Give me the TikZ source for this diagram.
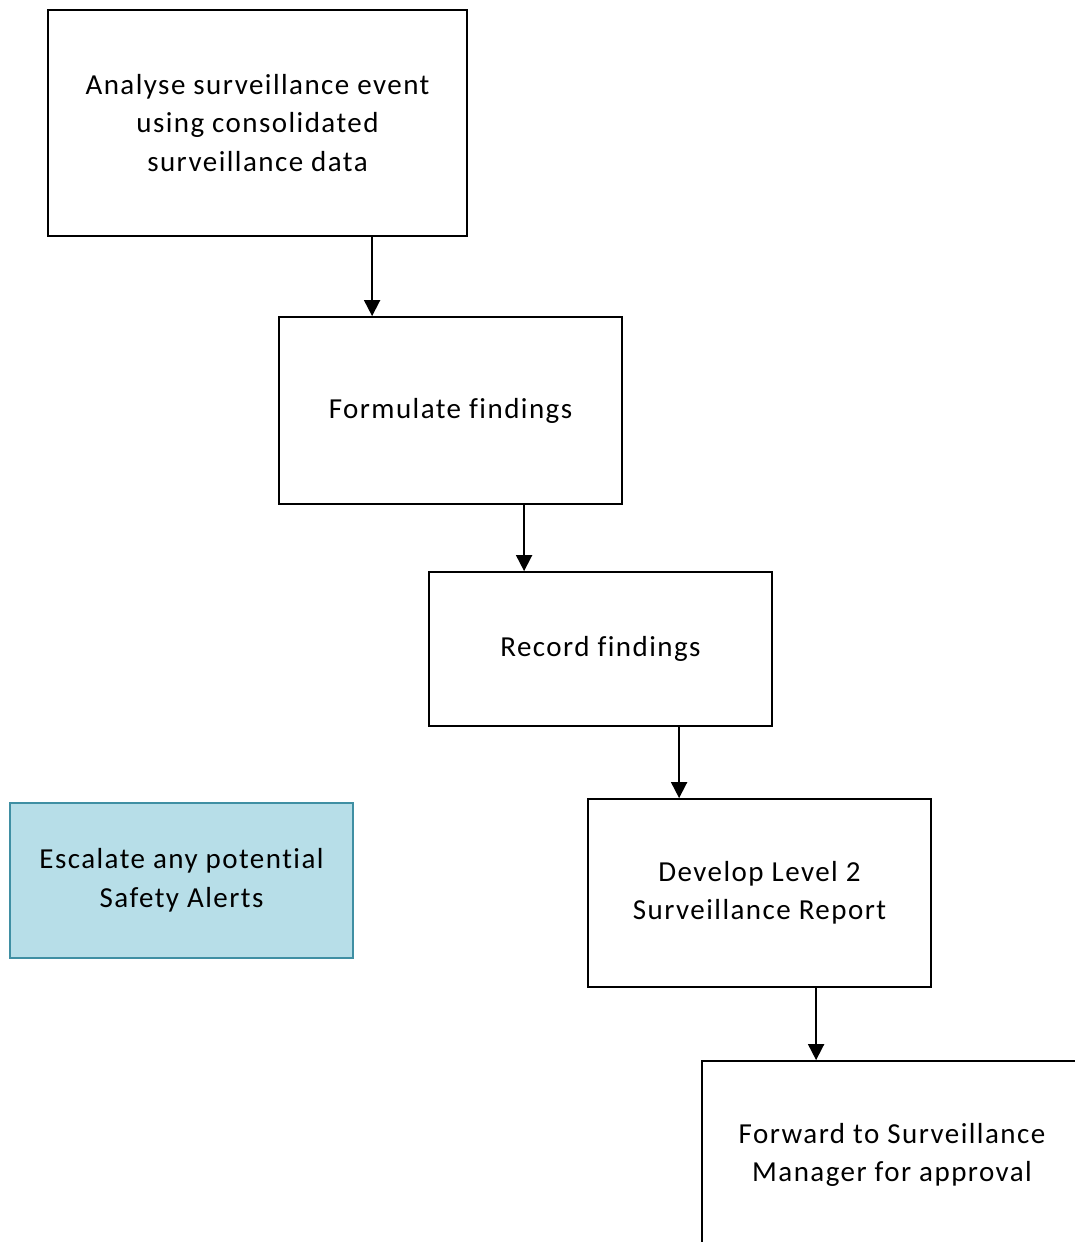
\documentclass[tikz,border=0pt]{standalone}
\usepackage{fontspec}
\setmainfont{Carlito}[LetterSpace=5,Ligatures=NoCommon]
\usetikzlibrary{arrows.meta}
\definecolor{alertfill}{HTML}{B7DEE8}
\definecolor{alertline}{HTML}{3F8FA3}
\begin{document}
\begin{tikzpicture}[x=1pt,y=-1pt,
  stepbox/.style={draw=black,line width=1.8pt,fill=white,align=center,
    inner sep=0pt,font=\fontsize{29}{38.5}\selectfont},
  alertbox/.style={stepbox,draw=alertline,fill=alertfill},
  flow/.style={draw=black,line width=1.8pt,-{Triangle[length=16pt,width=16pt]}}]
\useasboundingbox (0,0) rectangle (1074,1242);
\fill[white] (0,0) rectangle (1074,1242);
\node[stepbox,minimum width=419pt,minimum height=226pt] (analyse) at (257.5,123) {Analyse surveillance event\\using consolidated\\surveillance data};
\node[stepbox,minimum width=343pt,minimum height=187pt] (formulate) at (450.5,410.5) {Formulate findings};
\node[stepbox,minimum width=343pt,minimum height=154pt] (record) at (600.5,649) {Record findings};
\node[alertbox,minimum width=343pt,minimum height=155pt] (escalate) at (181.5,880.5) {Escalate any potential\\Safety Alerts};
\node[stepbox,minimum width=343pt,minimum height=188pt] (develop) at (759.5,893) {Develop Level 2\\Surveillance Report};
\node[stepbox,minimum width=380pt,minimum height=188pt] (forward) at (892,1155) {Forward to Surveillance\\Manager for approval};
\draw[flow] (analyse.south -| formulate.north west) ++(94,0) coordinate (a1) -- (a1 |- formulate.north);
\draw[flow] (formulate.south west) ++(246,0) coordinate (a2) -- (a2 |- record.north);
\draw[flow] (record.south west) ++(251,0) coordinate (a3) -- (a3 |- develop.north);
\draw[flow] (develop.south west) ++(229,0) coordinate (a4) -- (a4 |- forward.north);
\end{tikzpicture}
\end{document}
